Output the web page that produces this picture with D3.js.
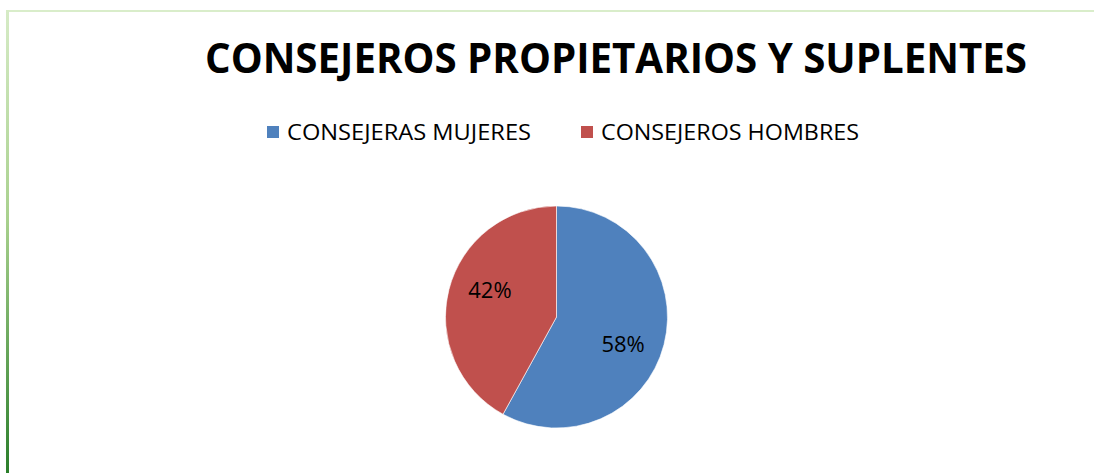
<!DOCTYPE html>
<html>
<head>
<meta charset="utf-8">
<script src="https://cdn.jsdelivr.net/npm/d3@7"></script>
<style>
  body { margin: 0; background: #fff; }
  svg { display: block; font-family: "Open Sans", "Liberation Sans", sans-serif; }
</style>
</head>
<body>
<div id="content"></div>
<script>
// data
var categories = ['CONSEJERAS MUJERES', 'CONSEJEROS HOMBRES'];
var values     = [58, 42];
var colors     = ['#4f81bd', '#c0504d'];
var title      = 'CONSEJEROS PROPIETARIOS Y SUPLENTES';

var width = 1094, height = 473;

var svg = d3.select('#content').append('svg')
    .attr('width', width)
    .attr('height', height);

// frame gradient (left edge light green to dark green)
var defs = svg.append('defs');
var grad = defs.append('linearGradient')
    .attr('id', 'leftGrad')
    .attr('x1', 0).attr('y1', 0).attr('x2', 0).attr('y2', 1);
grad.append('stop').attr('offset', '0%').attr('stop-color', '#d6ebc6');
grad.append('stop').attr('offset', '45%').attr('stop-color', '#a9d18e');
grad.append('stop').attr('offset', '100%').attr('stop-color', '#2a7e2a');

svg.append('rect')
    .attr('x', 6).attr('y', 10)
    .attr('width', width - 6).attr('height', 2)
    .attr('fill', '#d9edca');
svg.append('rect')
    .attr('x', 6).attr('y', 10)
    .attr('width', 3).attr('height', height - 10)
    .attr('fill', 'url(#leftGrad)');

// title
svg.append('text')
    .attr('x', 616).attr('y', 73)
    .attr('text-anchor', 'middle')
    .attr('font-size', 42)
    .attr('font-weight', 'bold')
    .attr('textLength', 822)
    .attr('lengthAdjust', 'spacingAndGlyphs')
    .attr('fill', '#000')
    .text(title);

// legend
var legendX = [267, 581];
var legendW = [244, 258];
var legend = svg.append('g').selectAll('g')
    .data(categories)
    .enter().append('g')
    .attr('transform', function(d, i){ return 'translate(' + legendX[i] + ',126)'; });
legend.append('rect')
    .attr('width', 12).attr('height', 12)
    .attr('fill', function(d, i){ return colors[i]; });
legend.append('text')
    .attr('x', 20).attr('y', 14)
    .attr('font-size', 21)
    .attr('textLength', function(d, i){ return legendW[i]; })
    .attr('lengthAdjust', 'spacingAndGlyphs')
    .attr('fill', '#000')
    .text(function(d){ return d; });

// pie
var cx = 556.5, cy = 317, r = 111;
var pie = d3.pie().sort(null).value(function(d){ return d; });
var arc = d3.arc().innerRadius(0).outerRadius(r);

var total = d3.sum(values);
var g = svg.append('g').attr('transform', 'translate(' + cx + ',' + cy + ')');
var slices = g.selectAll('g.slice')
    .data(pie(values))
    .enter().append('g').attr('class', 'slice');

slices.append('path')
    .attr('d', arc)
    .attr('fill', function(d, i){ return colors[i]; })
    .attr('stroke', '#ffffff')
    .attr('stroke-opacity', 0.6)
    .attr('stroke-width', 1);

// labels a bit past the mid angle, like excel's best fit
var labelR = 72, shift = 8 * Math.PI / 180;
slices.append('text')
    .attr('transform', function(d){
        var a = (d.startAngle + d.endAngle) / 2 + shift;
        var x = Math.sin(a) * labelR, y = -Math.cos(a) * labelR;
        return 'translate(' + x + ',' + (y + 8) + ')';
    })
    .attr('text-anchor', 'middle')
    .attr('font-size', 22)
    .attr('fill', '#000')
    .text(function(d){ return Math.round(d.value / total * 100) + '%'; });
</script>
</body>
</html>
